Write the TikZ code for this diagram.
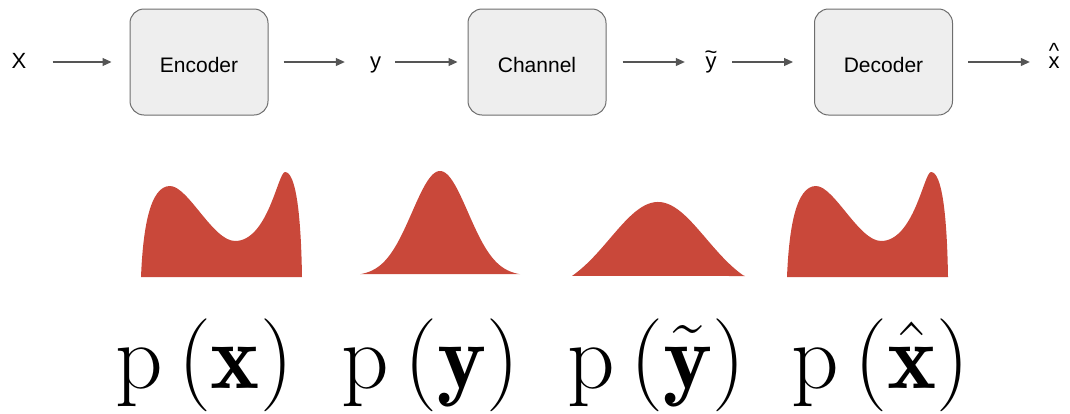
\RequirePackage{fix-cm}
\documentclass[tikz,border=0pt]{standalone}
\usepackage{fontspec}
\newfontfamily\boxfont{Liberation Sans}
\usetikzlibrary{arrows.meta}
\definecolor{boxfill}{HTML}{EEEEEE}
\definecolor{boxline}{HTML}{6E6E6E}
\definecolor{arrowgray}{HTML}{555555}
\definecolor{distred}{RGB}{201,72,58}
\newcommand\accover[3]{\ooalign{#3\cr\hidewidth\raisebox{#2}{#1}\hidewidth\cr}}
\tikzset{
  blockbox/.style={draw=boxline, line width=1pt, fill=boxfill, rounded corners=14pt,
    minimum width=138pt, minimum height=106pt, inner sep=0pt,
    text height=20pt, text depth=0pt, font=\boxfont\fontsize{21}{25}\selectfont},
  sig/.style={inner sep=0pt, minimum width=14pt, text height=16pt, text depth=4pt,
    font=\boxfont\fontsize{22}{26}\selectfont},
  flow/.style={draw=arrowgray, line width=1.1pt, -{Triangle[length=9pt,width=8pt]}},
  dist/.style={fill=distred},
  formula/.style={inner sep=0pt, anchor=base, font=\fontsize{93}{100}\selectfont}
}
\begin{document}
\begin{tikzpicture}[x=1pt,y=-1pt]
\useasboundingbox (0,0) rectangle (1070,413);
% blocks
\node[blockbox] (enc) at (199,62) {Encoder};
\node[blockbox] (chan) at (537,62) {Channel};
\node[blockbox] (dec) at (883.5,62) {Decoder};
% signals
\node[sig] (x) at (19,62) {X};
\node[sig] (y) at (375.5,62) {y};
\node[sig] (yt) at (711,62) {\accover{\textasciitilde}{9pt}{y}};
\node[sig] (xh) at (1054,62) {\accover{\textasciicircum}{10pt}{x}};
% connectors
\draw[flow, shorten <=26pt, shorten >=18pt] (x) -- (enc);
\draw[flow, shorten <=15pt, shorten >=23.5pt] (enc) -- (y);
\draw[flow, shorten <=12.5pt, shorten >=10pt] (y) -- (chan);
\draw[flow, shorten <=16pt, shorten >=19pt] (chan) -- (yt);
\draw[flow, shorten <=14pt, shorten >=21pt] (yt) -- (dec);
\draw[flow, shorten <=15pt, shorten >=17pt] (dec) -- (xh);
% distributions
\fill[dist] (141,277) .. controls (143,228) and (150,186) .. (170,186)
  .. controls (188,186) and (213,241) .. (235,241)
  .. controls (268,241) and (278,172) .. (285,172)
  .. controls (296,172) and (301,215) .. (302,277) -- cycle;
\fill[dist] plot[domain=360:520, samples=100, smooth] (\x, {276-105*exp(-((\x-440)/28)^2/2)}) -- cycle;
\fill[dist] plot[domain=572:745, samples=100, smooth] (\x, {276-74*max(0,(exp(-((\x-658)/48)^2/2)-0.2)/0.8)}) -- cycle;
\begin{scope}[xshift=646pt]
\fill[dist] (141,277) .. controls (143,228) and (150,186) .. (170,186)
  .. controls (188,186) and (213,241) .. (235,241)
  .. controls (268,241) and (278,172) .. (285,172)
  .. controls (296,172) and (301,215) .. (302,277) -- cycle;
\end{scope}
% formulas
\node[formula] (px) at (204,388) {$\mathrm{p}\,(\mathbf{x})$};
\node[formula] (py) at (430.5,388) {$\mathrm{p}\,(\mathbf{y})$};
\node[formula] (pyt) at (656.5,388) {$\mathrm{p}\,(\tilde{\mathbf{y}})$};
\node[formula] (pxh) at (880.5,388) {$\mathrm{p}\,(\hat{\mathbf{x}})$};
\end{tikzpicture}
\end{document}
